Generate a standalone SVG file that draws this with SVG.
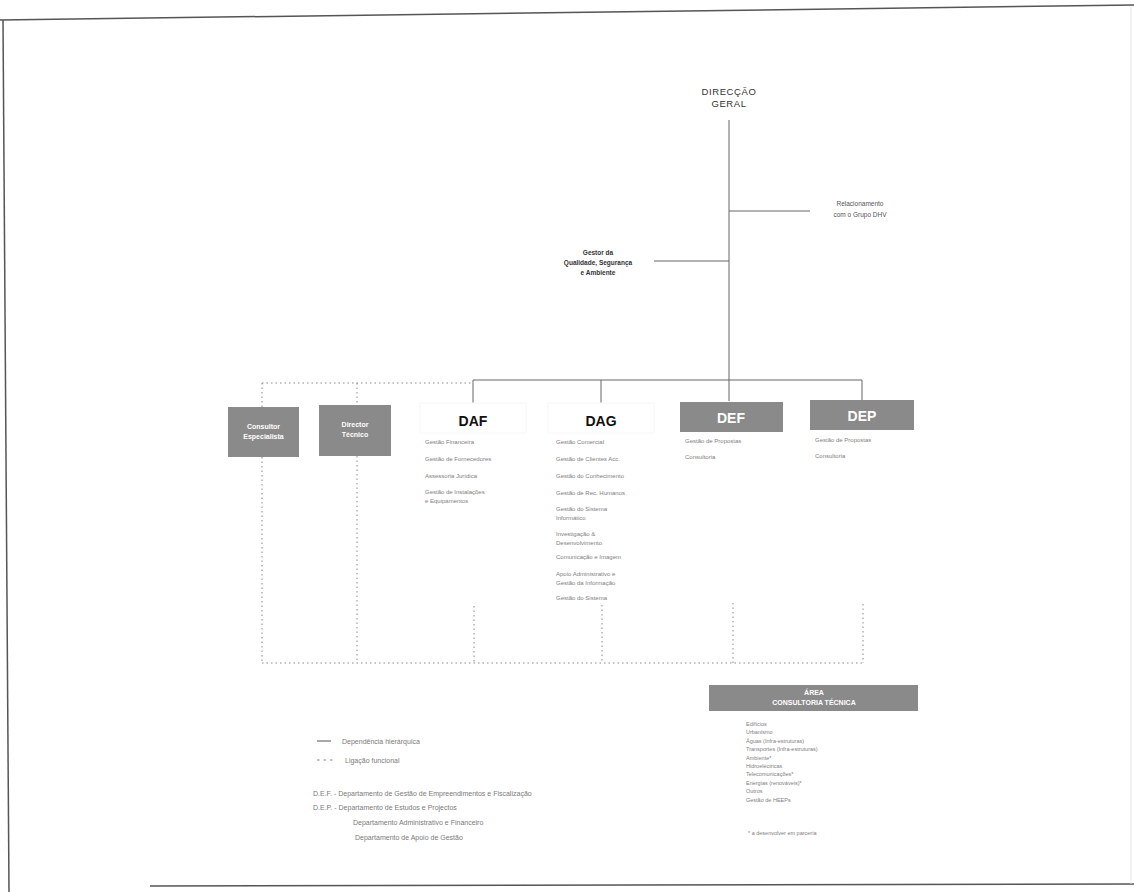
<svg xmlns="http://www.w3.org/2000/svg" width="1134" height="892" viewBox="0 0 1134 892">
  <style>
    text { font-family: "Liberation Sans", Arial, sans-serif; }
    .title { font-size: 9.5px; fill: #333; letter-spacing: 0.6px; text-anchor: middle; }
    .side { font-size: 6.5px; fill: #555; text-anchor: middle; }
    .sideb { font-size: 6.5px; fill: #333; font-weight: bold; text-anchor: middle; }
    .dept { font-size: 14px; font-weight: 900; fill: #111; text-anchor: middle; }
    .deptw { font-size: 14px; font-weight: 900; fill: #fff; text-anchor: middle; }
    .boxw { font-size: 7px; font-weight: bold; fill: #fff; text-anchor: middle; }
    .item { font-size: 6px; fill: #808080; }
    .small { font-size: 5.5px; fill: #808080; }
    .leg { font-size: 7px; fill: #7a7a7a; }
    .gbox { fill: #8a8a8a; }
    .solid { stroke: #666; stroke-width: 1; fill: none; }
    .dot { stroke: #888; stroke-width: 1; stroke-dasharray: 1.5 3; fill: none; }
    .frame { stroke: #555; stroke-width: 1.5; fill: none; }
  </style>

  <rect width="1134" height="892" fill="#fff"/>

  <!-- page frame -->
  <g id="frame">
    <path class="frame" d="M0 20 L1134 5"/>
    <path class="frame" d="M3 20 L9 892"/>
    <path class="frame" d="M150 886 L1134 884" stroke="#999"/>
    <path d="M1131 6 L1131 884" stroke="#e6e6e6" stroke-width="1"/>
  </g>

  <!-- connectors -->
  <g id="connectors">
    <path class="solid" d="M729 120 V380"/>
    <path class="solid" d="M729 211 H810"/>
    <path class="solid" d="M654 261 H729"/>
    <path class="solid" d="M473 380 H862"/>
    <path class="solid" d="M473 380 V403"/>
    <path class="solid" d="M601 380 V403"/>
    <path class="solid" d="M729 380 V401"/>
    <path class="solid" d="M862 380 V400"/>
    <path class="dot" d="M262 383 H473"/>
    <path class="dot" d="M262 383 V407"/>
    <path class="dot" d="M357 383 V405"/>
    <path class="dot" d="M262 457 V663"/>
    <path class="dot" d="M357 456 V663"/>
    <path class="dot" d="M262 663 H862"/>
    <path class="dot" d="M474 606 V663"/>
    <path class="dot" d="M602 605 V663"/>
    <path class="dot" d="M733 603 V663"/>
    <path class="dot" d="M863 604 V663"/>
  </g>

  <g id="direccao-geral">
    <text class="title" x="729" y="95">DIRECÇÃO</text>
    <text class="title" x="729" y="107">GERAL</text>
  </g>

  <g id="relacionamento">
    <text class="side" x="860" y="206">Relacionamento</text>
    <text class="side" x="860" y="217">com o Grupo DHV</text>
  </g>

  <g id="gestor-qualidade">
    <text class="sideb" x="598" y="255">Gestor da</text>
    <text class="sideb" x="598" y="265">Qualidade, Segurança</text>
    <text class="sideb" x="598" y="275">e Ambiente</text>
  </g>

  <g id="consultor-especialista">
    <rect class="gbox" x="228" y="407" width="71" height="50"/>
    <text class="boxw" x="263.5" y="429">Consultor</text>
    <text class="boxw" x="263.5" y="439">Especialista</text>
  </g>

  <g id="director-tecnico">
    <rect class="gbox" x="319" y="405" width="72" height="51"/>
    <text class="boxw" x="355" y="427">Director</text>
    <text class="boxw" x="355" y="437">Técnico</text>
  </g>

  <g id="daf">
    <rect x="420" y="403" width="106" height="30" fill="none" stroke="#f6f6f6"/>
    <text class="dept" x="473" y="426">DAF</text>
    <text class="item" x="425" y="444">Gestão Financeira</text>
    <text class="item" x="425" y="461">Gestão de Fornecedores</text>
    <text class="item" x="425" y="478">Assessoria Jurídica</text>
    <text class="item" x="425" y="494">Gestão de Instalações</text>
    <text class="item" x="425" y="503">e Equipamentos</text>
  </g>

  <g id="dag">
    <rect x="548" y="403" width="106" height="30" fill="none" stroke="#f6f6f6"/>
    <text class="dept" x="601" y="426">DAG</text>
    <text class="item" x="556" y="444">Gestão Comercial</text>
    <text class="item" x="556" y="461">Gestão de Clientes Acc.</text>
    <text class="item" x="556" y="478">Gestão do Conhecimento</text>
    <text class="item" x="556" y="495">Gestão de Rec. Humanos</text>
    <text class="item" x="556" y="511">Gestão do Sistema</text>
    <text class="item" x="556" y="520">Informático</text>
    <text class="item" x="556" y="536">Investigação &amp;</text>
    <text class="item" x="556" y="545">Desenvolvimento</text>
    <text class="item" x="556" y="559">Comunicação e Imagem</text>
    <text class="item" x="556" y="576">Apoio Administrativo e</text>
    <text class="item" x="556" y="585">Gestão da Informação</text>
    <text class="item" x="556" y="600">Gestão do Sistema</text>
  </g>

  <g id="def">
    <rect class="gbox" x="680" y="402" width="103" height="30"/>
    <text class="deptw" x="731" y="423">DEF</text>
    <text class="item" x="685" y="443">Gestão de Propostas</text>
    <text class="item" x="685" y="459">Consultoria</text>
  </g>

  <g id="dep">
    <rect class="gbox" x="810" y="400" width="104" height="30"/>
    <text class="deptw" x="862" y="421">DEP</text>
    <text class="item" x="815" y="442">Gestão de Propostas</text>
    <text class="item" x="815" y="458">Consultoria</text>
  </g>

  <g id="consultoria-tecnica">
    <rect class="gbox" x="709" y="685" width="209" height="26"/>
    <text class="boxw" x="814" y="695" font-size="5px">ÁREA</text>
    <text class="boxw" x="814" y="705" font-size="7.5px">CONSULTORIA TÉCNICA</text>
    <text class="small" x="746" y="726">Edifícios</text>
    <text class="small" x="746" y="734">Urbanismo</text>
    <text class="small" x="746" y="743">Águas (Infra-estruturas)</text>
    <text class="small" x="746" y="751">Transportes (Infra-estruturas)</text>
    <text class="small" x="746" y="760">Ambiente*</text>
    <text class="small" x="746" y="768">Hidroeléctricas</text>
    <text class="small" x="746" y="776">Telecomunicações*</text>
    <text class="small" x="746" y="785">Energias (renováveis)*</text>
    <text class="small" x="746" y="793">Outros</text>
    <text class="small" x="746" y="802">Gestão de HEEPs</text>
    <text class="small" x="748" y="835">* a desenvolver em parceria</text>
  </g>

  <g id="legenda">
    <path d="M317 741 H331" stroke="#555" stroke-width="1"/>
    <text class="leg" x="342" y="744">Dependência hierárquica</text>
    <path d="M317 760 H334" stroke="#888" stroke-width="1" stroke-dasharray="2.5 4"/>
    <text class="leg" x="345" y="763">Ligação funcional</text>
    <text class="leg" x="313" y="796">D.E.F. - Departamento de Gestão de Empreendimentos e Fiscalização</text>
    <text class="leg" x="313" y="810">D.E.P. - Departamento de Estudos e Projectos</text>
    <text class="leg" x="353" y="825">Departamento Administrativo e Financeiro</text>
    <text class="leg" x="355" y="840">Departamento de Apoio de Gestão</text>
  </g>
</svg>
